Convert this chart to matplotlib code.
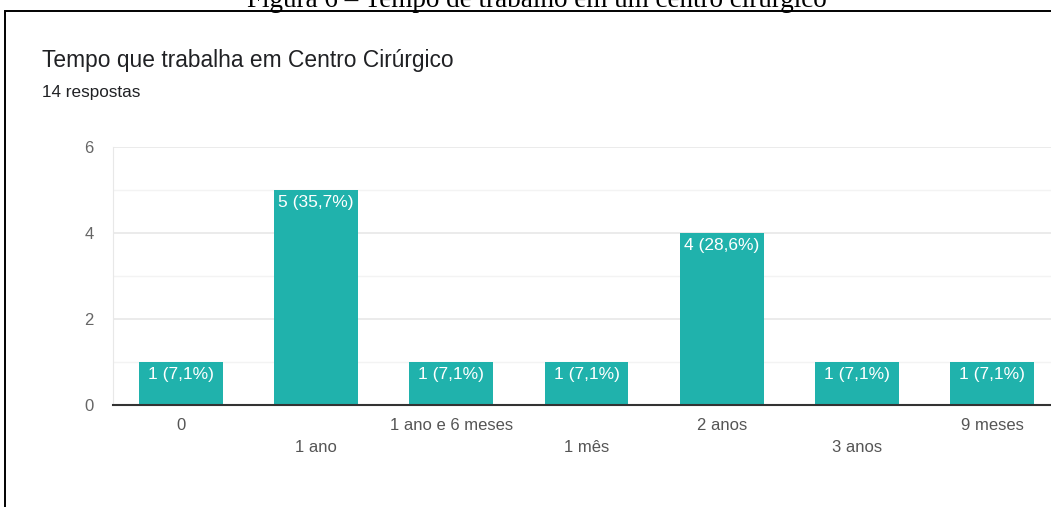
import matplotlib
matplotlib.use('Agg')
import matplotlib.pyplot as plt
from matplotlib.patches import Rectangle

# data
categories = ['0', '1 ano', '1 ano e 6 meses', '1 mês', '2 anos', '3 anos', '9 meses']
counts     = [1, 5, 1, 1, 4, 1, 1]
n_total    = 14

BAR_COLOR = '#20b2ac'
TEXT_DARK = '#202124'
TICK_GRAY = '#555555'

plt.rcParams['font.family'] = ['Liberation Sans', 'DejaVu Sans']

fig = plt.figure(figsize=(10.51, 5.07), dpi=100)
W, H = 1051, 507

# caption above the frame (cut by the top edge in the source)
fig.text(537 / W, 1 - 7 / H, 'Figura 6 – Tempo de trabalho em um centro cirúrgico',
         family='Liberation Serif', fontsize=19.5, ha='center', va='baseline',
         color='black')

# frame around the chart
fig.patches.append(Rectangle((4.5 / W, -0.1), 1.2, 1 - 11 / H + 0.1,
                             transform=fig.transFigure, fill=False,
                             edgecolor='black', lw=1.4))

fig.text(42 / W, 1 - 61 / H, 'Tempo que trabalha em Centro Cirúrgico',
         fontsize=16.4, color=TEXT_DARK, va='center', ha='left')
fig.text(42 / W, 1 - 93 / H, f'{n_total} respostas',
         fontsize=12.3, color=TEXT_DARK, va='center', ha='left')

ax = fig.add_axes([113 / W, 102 / H, 947 / W, 258 / H])
x = range(len(categories))
bars = ax.bar(x, counts, width=0.62, color=BAR_COLOR, zorder=3)

for rect, c in zip(bars, counts):
    pct = f'{100 * c / n_total:.1f}'.replace('.', ',')
    ax.annotate(f'{c} ({pct}%)', (rect.get_x() + rect.get_width() / 2, rect.get_height()),
                xytext=(0, -3.5), textcoords='offset points', ha='center', va='top',
                color='white', fontsize=12.5, zorder=4)

ax.set_xlim(-0.5, len(categories) - 0.5)
ax.set_ylim(0, 6)
ax.set_yticks([0, 2, 4, 6])
ax.set_yticks([1, 3, 5], minor=True)
ax.grid(True, axis='y', which='major', color='#e8e8e8', lw=1.2, zorder=0)
ax.grid(True, axis='y', which='minor', color='#f3f3f3', lw=1.0, zorder=0)

ax.set_xticks(list(x))
ax.set_xticklabels(categories)
for i, t in enumerate(ax.xaxis.get_major_ticks()):
    t.set_pad(9 if i % 2 == 0 else 25)
ax.tick_params(axis='x', length=0, labelsize=12, labelcolor=TICK_GRAY)
ax.tick_params(axis='y', which='both', length=0, labelsize=12, labelcolor='#666666', pad=14)

for s in ['top', 'right']:
    ax.spines[s].set_visible(False)
ax.spines['left'].set_color('#e8e8e8')
ax.spines['bottom'].set_color('#333333')
ax.spines['bottom'].set_linewidth(1.5)
ax.spines['bottom'].set_zorder(5)

fig.savefig('out.png', dpi=100)
